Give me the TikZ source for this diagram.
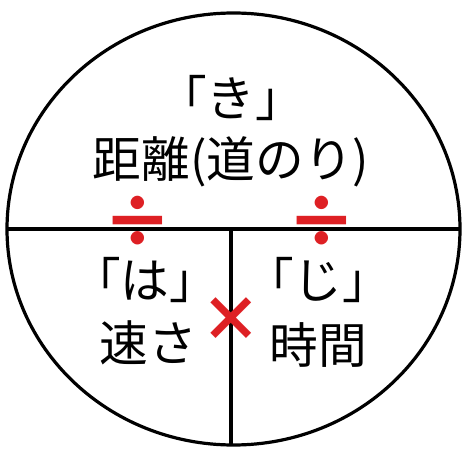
\documentclass[tikz,border=0pt]{standalone}
\usepackage{fontspec}
\usepackage{xcolor}
\newfontfamily\jpfont{Noto Sans CJK JP}
\definecolor{markred}{RGB}{222,32,36}

\begin{document}
\begin{tikzpicture}[x=0.75pt,y=0.75pt,yscale=-1,xscale=1]
\useasboundingbox (0,0) rectangle (470,470);

%Shape: Ellipse [id:circ]
\draw [line width=2.4pt] (233.5,229) ellipse [x radius=226.5, y radius=216];

%Coordinates of the dividing lines
\coordinate (lftEnd) at (7,229);
\coordinate (rgtEnd) at (460,229);
\coordinate (midTop) at (231,229);
\coordinate (midBot) at (231,445);

%Straight Lines [id:hline]
\draw [line width=2.4pt] (lftEnd) -- (rgtEnd);
%Straight Lines [id:vline]
\draw [line width=2.4pt] (midTop) -- (midBot);

% Text Node
\draw (231,98) node (ki) [inner sep=0.75pt] [font=\jpfont\fontsize{36.5}{40}\selectfont] {「き」};
% Text Node
\draw (231,162) node (kyori) [inner sep=0.75pt] [font=\jpfont\fontsize{36.5}{40}\selectfont] {距離(道のり)};
% Text Node
\draw (145,280) node (ha) [inner sep=0.75pt] [font=\jpfont\fontsize{36.5}{40}\selectfont] {「は」};
% Text Node
\draw (148,343) node (hayasa) [inner sep=0.75pt] [font=\jpfont\fontsize{36.5}{40}\selectfont] {速さ};
% Text Node
\draw (318,280) node (ji) [inner sep=0.75pt] [font=\jpfont\fontsize{36.5}{40}\selectfont] {「じ」};
% Text Node
\draw (318,345) node (jikan) [inner sep=0.75pt] [font=\jpfont\fontsize{36.5}{40}\selectfont] {時間};

% Text Node
\draw (138,222) node (divL) [inner sep=-4pt] [text=markred, font=\jpfont\bfseries\fontsize{53}{53}\selectfont] {÷};
% Text Node
\draw (322,222) node (divR) [inner sep=-4pt] [text=markred, font=\jpfont\bfseries\fontsize{53}{53}\selectfont] {÷};
% Text Node
\draw (231,320) node (times) [inner sep=0pt] [text=markred, font=\jpfont\bfseries\fontsize{46}{46}\selectfont] {×};

\end{tikzpicture}
\end{document}
